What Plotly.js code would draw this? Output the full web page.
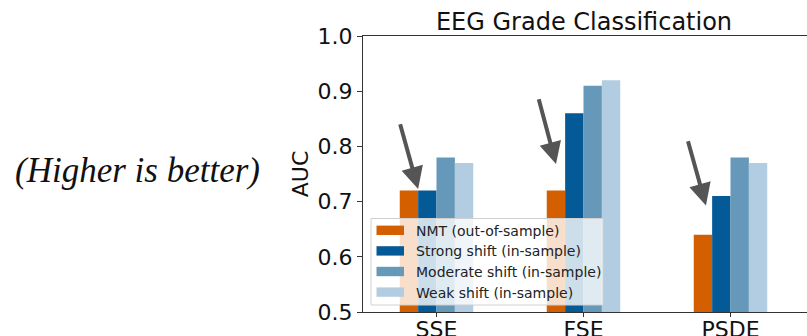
<!DOCTYPE html>
<html>
<head>
<meta charset="utf-8">
<script src="https://cdn.plot.ly/plotly-3.0.1.min.js"></script>
<style>
html,body{margin:0;padding:0;background:#fff;}
#chart{width:807px;height:336px;}
</style>
</head>
<body>
<div id="chart"></div>
<script>
// ---- data ----
const categories = ["SSE", "FSE", "PSDE"];
const seriesNames = ["NMT (out-of-sample)", "Strong shift (in-sample)", "Moderate shift (in-sample)", "Weak shift (in-sample)"];
const nmt      = [0.72, 0.72, 0.64];
const strong   = [0.72, 0.86, 0.71];
const moderate = [0.78, 0.91, 0.78];
const weak     = [0.77, 0.92, 0.77];
const yTicks = [0.5, 0.6, 0.7, 0.8, 0.9, 1.0];
const titleText = "EEG Grade Classification";
const yTitle = "AUC";
const sideNote = "(Higher is better)";

const colors = ["#d45f00", "#045a97", "#6598b9", "#b2cde1"];
const seriesValues = [nmt, strong, moderate, weak];

const traces = seriesValues.map((vals, i) => ({
  type: "bar",
  name: seriesNames[i],
  x: categories,
  y: vals,
  base: 0,
  showlegend: false,
  marker: {color: colors[i], line: {width: 0}},
  hoverinfo: "skip"
}));

// arrows: [tail x, tail y, tip x, tip y] in axis units (category index / AUC)
const arrows = [
  [-0.25, 0.843, -0.125, 0.723],
  [0.693, 0.888, 0.813, 0.768],
  [1.708, 0.812, 1.833, 0.693]
];

const L = 363, T = 36, B = 24, W = 807, H = 336;
const plotW = W - L, plotH = H - T - B;
const px = v => (v - L) / plotW;          // pixel x -> paper
const py = v => (H - B - v) / plotH;      // pixel y -> paper

const annotations = arrows.map(a => ({
  x: a[2], y: a[3], xref: "x", yref: "y",
  ax: a[0], ay: a[1], axref: "x", ayref: "y",
  text: "", showarrow: true,
  arrowhead: 2, arrowsize: 1.1, arrowwidth: 4, arrowcolor: "#555555",
  standoff: 0
}));
annotations.push({
  text: sideNote, xref: "paper", yref: "paper",
  x: px(137), y: py(170),
  xanchor: "center", yanchor: "middle", showarrow: false,
  font: {family: "Liberation Serif", size: 35, color: "#111", style: "italic"}
});

// legend (matplotlib-style box with wide swatches)
const legBox = {x0: 371, x1: 603, y0: 218.5, y1: 305};
const rowY0 = 230.3, rowStep = 20.6;
const shapes = [{
  type: "rect", xref: "paper", yref: "paper", layer: "above",
  x0: px(legBox.x0), x1: px(legBox.x1), y0: py(legBox.y1), y1: py(legBox.y0),
  fillcolor: "rgba(255,255,255,0.8)", line: {color: "#d0d0d0", width: 1}
}];
seriesNames.forEach((name, i) => {
  const cy = rowY0 + i * rowStep;
  shapes.push({
    type: "rect", xref: "paper", yref: "paper", layer: "above",
    x0: px(376.5), x1: px(404), y0: py(cy + 4.7), y1: py(cy - 4.7),
    fillcolor: colors[i], line: {width: 0}
  });
  annotations.push({
    text: name, xref: "paper", yref: "paper",
    x: px(414), y: py(cy + 0.5), xanchor: "left", yanchor: "middle", showarrow: false,
    font: {family: "DejaVu Sans", size: 14, color: "#222"}
  });
});

const layout = {
  width: W, height: H,
  margin: {l: L, r: 0, t: T, b: B, pad: 0},
  paper_bgcolor: "#fff", plot_bgcolor: "#fff",
  font: {family: "DejaVu Sans", color: "#111"},
  title: {text: titleText, font: {family: "DejaVu Sans", size: 24, color: "#111"},
          x: 584 / W, xanchor: "center", y: 1 - 21.5/H, yanchor: "middle", yref: "container"},
  barmode: "group", bargap: 0.5, bargroupgap: 0,
  xaxis: {
    range: [-0.5, -0.5 + plotW/147], type: "category",
    showline: true, linecolor: "#333", linewidth: 1, mirror: true,
    ticks: "outside", ticklen: 4, tickwidth: 1, tickcolor: "#333",
    ticklabelstandoff: -6,
    showgrid: false, zeroline: false,
    tickfont: {family: "DejaVu Sans", size: 22, color: "#111"},
    fixedrange: true
  },
  yaxis: {
    range: [0.5, 1.0], tickvals: yTicks, ticktext: yTicks.map(v => v.toFixed(1)),
    showline: true, linecolor: "#333", linewidth: 1,
    ticks: "outside", ticklen: 5, tickwidth: 1, tickcolor: "#333",
    showgrid: false, zeroline: false,
    tickfont: {family: "DejaVu Sans", size: 22, color: "#111"},
    title: {text: yTitle, font: {family: "DejaVu Sans", size: 22, color: "#111"}, standoff: 2},
    fixedrange: true
  },
  showlegend: false,
  shapes: shapes,
  annotations: annotations
};

Plotly.newPlot("chart", traces, layout, {displayModeBar: false, staticPlot: true});
</script>
</body>
</html>
